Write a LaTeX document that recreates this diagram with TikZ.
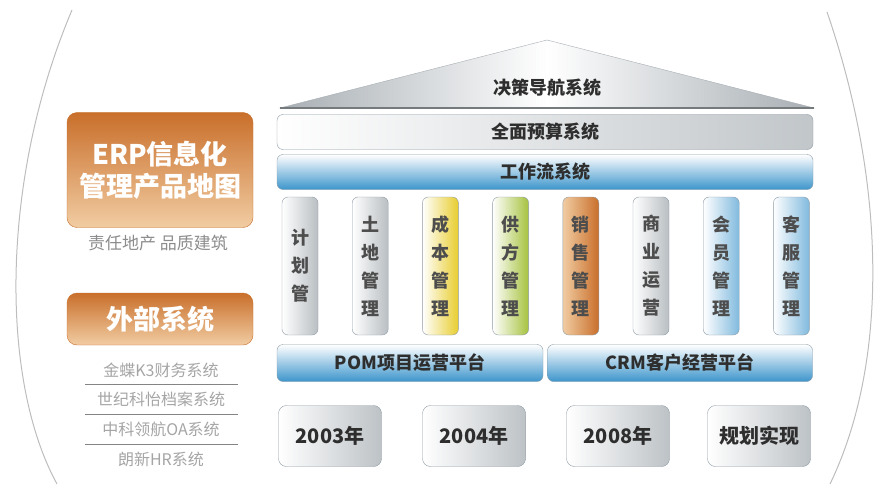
\documentclass[tikz,border=0pt]{standalone}
\usepackage{fontspec}
\setmainfont{Noto Sans CJK SC}
\usepackage{tikz}
\usetikzlibrary{positioning}
\definecolor{edgegrey}{HTML}{8E9BA5}
\definecolor{textgrey}{HTML}{2E2E2E}
\definecolor{roofgrey}{HTML}{A7AEB3}
\definecolor{arcgrey}{HTML}{BDBDBD}
\definecolor{listgrey}{HTML}{A5A5A5}
\definecolor{bluedeep}{HTML}{3D95CC}
\definecolor{bluemid}{HTML}{D3E8F5}
\definecolor{orangedeep}{HTML}{C96F2B}
\definecolor{orangemid}{HTML}{D98C4C}
\definecolor{orangelight}{HTML}{F1CCA2}
\definecolor{cornyellow}{HTML}{E8CD2E}
\definecolor{leafgreen}{HTML}{A6C23E}
\begin{document}
\begin{tikzpicture}[x=1pt,y=-1pt,node distance=70.2pt,
  bar/.style={draw=edgegrey,rounded corners=6pt,minimum width=536pt,minimum height=35pt,inner sep=0pt,text=textgrey,font=\fontsize{18}{20}\selectfont\bfseries},
  bluebar/.style={bar,top color=white,middle color=bluemid,bottom color=bluedeep},
  pillar/.style={draw=edgegrey,rounded corners=6pt,minimum width=36pt,minimum height=138pt,inner sep=0pt,align=center,text=textgrey!85,font=\fontsize{18}{28}\selectfont\bfseries},
  greypillar/.style={pillar,left color=white,right color=roofgrey!80},
  bluepillar/.style={pillar,left color=white,right color=bluedeep!65},
  yearbox/.style={draw=edgegrey,rounded corners=8pt,minimum width=103pt,minimum height=61pt,inner sep=0pt,left color=white,right color=roofgrey!75,text=textgrey,font=\fontsize{20}{22}\selectfont\bfseries},
  orangebox/.style={draw=orangedeep,rounded corners=10pt,minimum width=186pt,inner sep=0pt,align=center,text=white,top color=orangedeep,middle color=orangemid,bottom color=orangelight,font=\fontsize{27}{32}\selectfont\bfseries},
  listitem/.style={text=listgrey,font=\fontsize{16}{18}\selectfont}]
  \useasboundingbox (0,0) rectangle (877,484);
  \draw[arcgrey,line width=1pt] (72,10) .. controls (0,180) and (0,380) .. (57,484);
  \draw[arcgrey,line width=1pt] (827,12) .. controls (885,180) and (890,360) .. (830,484);
  \shade[left color=roofgrey,right color=roofgrey,middle color=white,draw=roofgrey] (280,108) -- (547,40) -- (814,108) -- cycle;
  \draw[line width=2pt,color=roofgrey!70!black] (280,108) -- (814,108);
  \node[text=textgrey,font=\fontsize{18}{20}\selectfont\bfseries] (roof) at (547,88) {决策导航系统};
  \node[bar,left color=white,middle color=white,right color=roofgrey!70] (budget) at (545,132) {全面预算系统};
  \node[bluebar] (flow) at (545,172) {工作流系统};
  \node[greypillar] (p1) at (300,266) {计\\划\\管};
  \node[greypillar,right of=p1] (p2) {土\\地\\管\\理};
  \node[pillar,left color=white,right color=cornyellow,right of=p2] (p3) {成\\本\\管\\理};
  \node[pillar,left color=white,right color=leafgreen,right of=p3] (p4) {供\\方\\管\\理};
  \node[pillar,left color=orangelight,right color=orangedeep,right of=p4] (p5) {销\\售\\管\\理};
  \node[greypillar,right of=p5] (p6) {商\\业\\运\\营};
  \node[bluepillar,right of=p6] (p7) {会\\员\\管\\理};
  \node[bluepillar,right of=p7] (p8) {客\\服\\管\\理};
  \node[bluebar,minimum width=266pt,minimum height=37pt] (pom) at (410,363) {POM项目运营平台};
  \node[bluebar,minimum width=265pt,minimum height=37pt] (crm) at (680,363) {CRM客户经营平台};
  \node[yearbox] (y1) at (330,436) {2003年};
  \node[yearbox,right of=y1,node distance=144pt] (y2) {2004年};
  \node[yearbox,right of=y2,node distance=144pt] (y3) {2008年};
  \node[yearbox,right of=y3,node distance=141pt] (y4) {规划实现};
  \node[orangebox,minimum height=115pt] (erp) at (160,170) {ERP信息化\\管理产品地图};
  \node[text=listgrey!85!black,font=\fontsize{17}{19}\selectfont] (motto) at (158,243) {责任地产\ 品质建筑};
  \node[orangebox,minimum height=52pt] (ext) at (160,319) {外部系统};
  \node[listitem] (l1) at (161,370) {金蝶K3财务系统};
  \node[listitem] (l2) at (161,399) {世纪科怡档案系统};
  \node[listitem] (l3) at (161,429) {中科领航OA系统};
  \node[listitem] (l4) at (161,459) {朗新HR系统};
  \draw[listgrey!80!black] (85,384) -- (238,384);
  \draw[listgrey!80!black] (85,414) -- (238,414);
  \draw[listgrey!80!black] (85,444) -- (238,444);
\end{tikzpicture}
\end{document}
